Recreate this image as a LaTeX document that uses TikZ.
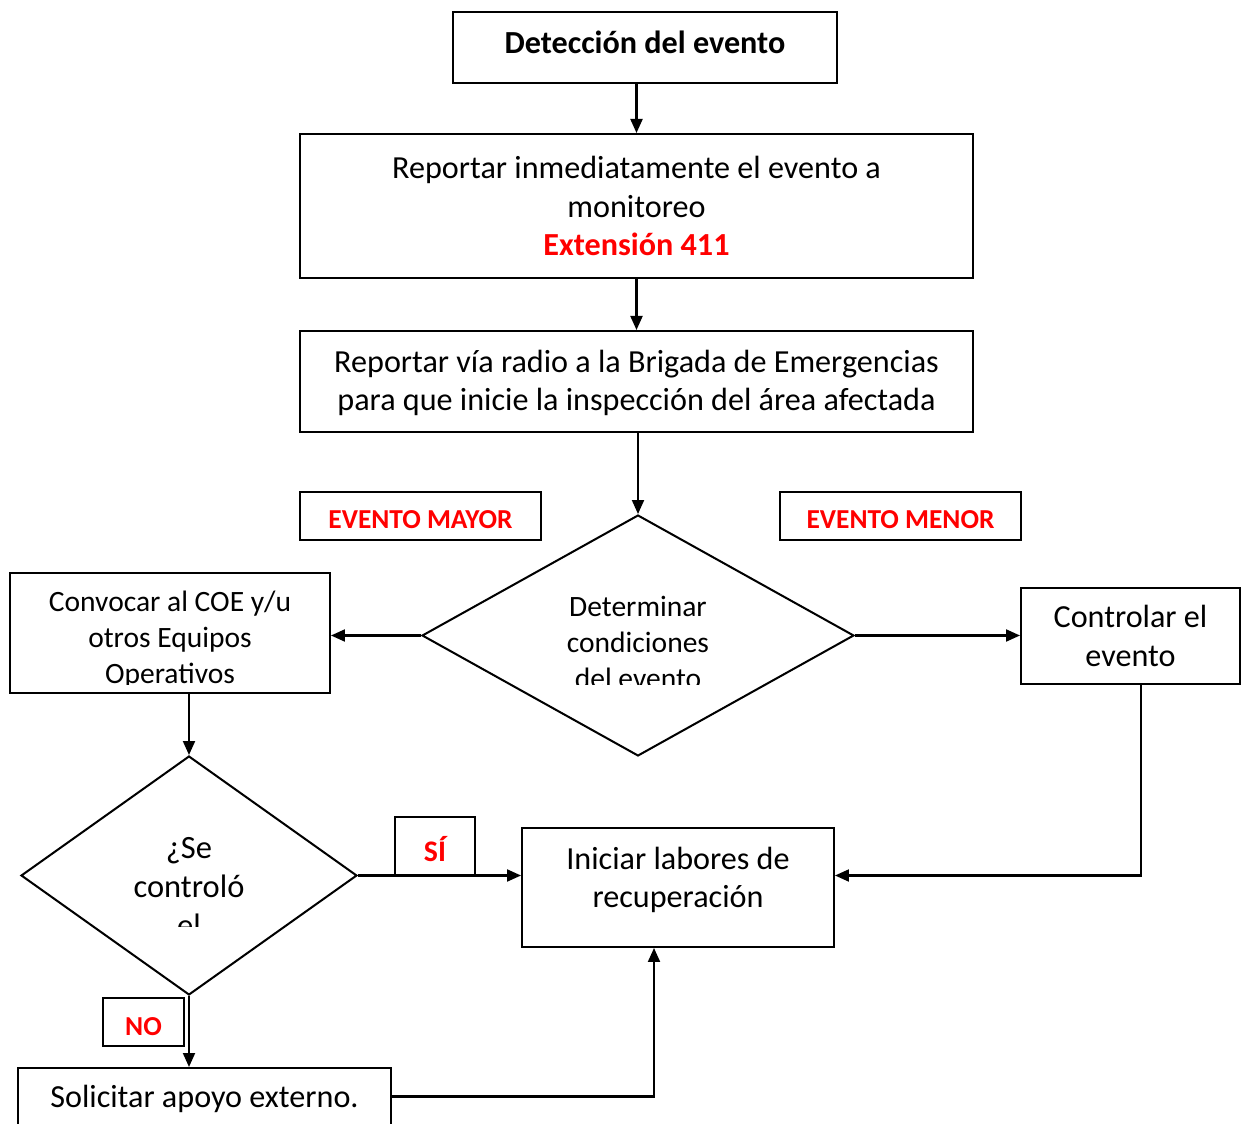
\documentclass[tikz,border=0pt]{standalone}
\usepackage{fontspec}
\setmainfont{Carlito}
\usetikzlibrary{shapes.geometric,arrows.meta}
\tikzset{
  box/.style={draw,fill=white,align=center,font=\fontsize{18.3}{22}\selectfont},
  choice/.style={draw,diamond,inner sep=0pt},
  tag/.style={draw,fill=white,text=red,text depth=0cm,font=\fontsize{15.6}{18}\selectfont\bfseries},
}
\begin{document}
\begin{tikzpicture}[x=0.02cm,y=-0.02cm,line width=1.15pt,>={Triangle[length=0.28cm,width=0.24cm]}]
\useasboundingbox (0,0) rectangle (1241,1124);
% boxes
\node[box,minimum width=7.68cm,minimum height=1.42cm,text depth=0.22cm,font=\fontsize{18.3}{22}\selectfont\bfseries] (det) at (645,47.5) {Detección del evento};
\node[box,minimum width=13.46cm,minimum height=2.88cm] (rep) at (636.5,206)
  {Reportar inmediatamente el evento a\\monitoreo\\{\color{red}\bfseries Extensión 411}};
\node[box,minimum width=13.46cm,minimum height=2.02cm,text depth=0.04cm] (radio) at (636.5,381.5)
  {Reportar vía radio a la Brigada de Emergencias\\para que inicie la inspección del área afectada};
\node[choice,minimum width=8.64cm,minimum height=4.82cm] (dec1) at (638,635.5) {};
\node[tag,minimum width=4.82cm,minimum height=0.96cm,text height=0.5cm] (mayor) at (420.5,516) {EVENTO MAYOR};
\node[tag,minimum width=4.82cm,minimum height=0.96cm,text height=0.5cm] (menor) at (900.5,516) {EVENTO MENOR};
\node[box,minimum width=6.4cm,minimum height=2.4cm] (conv) at (170,633) {};
\node[box,minimum width=4.38cm,minimum height=1.92cm] (ctrl) at (1130.5,636) {Controlar el\\evento};
\node[box,minimum width=6.24cm,minimum height=2.38cm,text depth=0.4cm] (ini) at (678,887.5) {Iniciar labores de\\recuperación};
\node[choice,minimum width=6.72cm,minimum height=4.78cm] (dec2) at (189,875.5) {};
\node[box,minimum width=7.46cm,minimum height=1.24cm,anchor=north] (sol) at (204.5,1067) {Solicitar apoyo externo.};
% cut-off texts
\begin{scope}
\clip (540,580) rectangle (740,685);
\node[align=center,font=\fontsize{16.8}{20.5}\selectfont] (dectext) at (638,642) {Determinar\\condiciones\\del evento};
\end{scope}
\begin{scope}
\clip (12,575) rectangle (328,685);
\node[align=center,font=\fontsize{16.8}{20.5}\selectfont] (convtext) at (170,640) {Convocar al COE y/u\\otros Equipos\\Operativos};
\end{scope}
\begin{scope}
\clip (80,820) rectangle (300,926);
\node[align=center,font=\fontsize{18.5}{22}\selectfont] (dec2text) at (189,887) {¿Se\\controló\\el};
\end{scope}
% arrows
\path[draw,->] (det.south -| rep.north) -- (rep.north);
\path[draw,->] (rep.south) -- (radio.north);
\path[draw,->] (radio.south -| dec1.north) -- (dec1.north);
\path[draw,->] (dec1.west) -- (conv.east |- dec1.west);
\path[draw,->] (dec1.east) -- (ctrl.west |- dec1.east);
\path[draw,->] (conv.south -| dec2.north) -- (dec2.north);
\path[draw,->] (dec2.east) -- (dec2.east -| ini.west);
\path[draw,->] ([xshift=0.21cm]ctrl.south) |- (dec2.east -| ini.east);
\path[draw,->] (dec2.south) -- (sol.north -| dec2.south);
\path[draw,->] ([yshift=0.05cm]sol.east) -| ([xshift=-0.48cm]ini.south);
\node[tag,minimum width=1.6cm,minimum height=1.16cm,anchor=south,text height=0.62cm,font=\fontsize{17}{20}\selectfont\bfseries] (si) at (435,876) {SÍ};
\node[tag,minimum width=1.62cm,minimum height=0.96cm,text height=0.55cm] (no) at (143.5,1022) {NO};
\end{tikzpicture}
\end{document}
